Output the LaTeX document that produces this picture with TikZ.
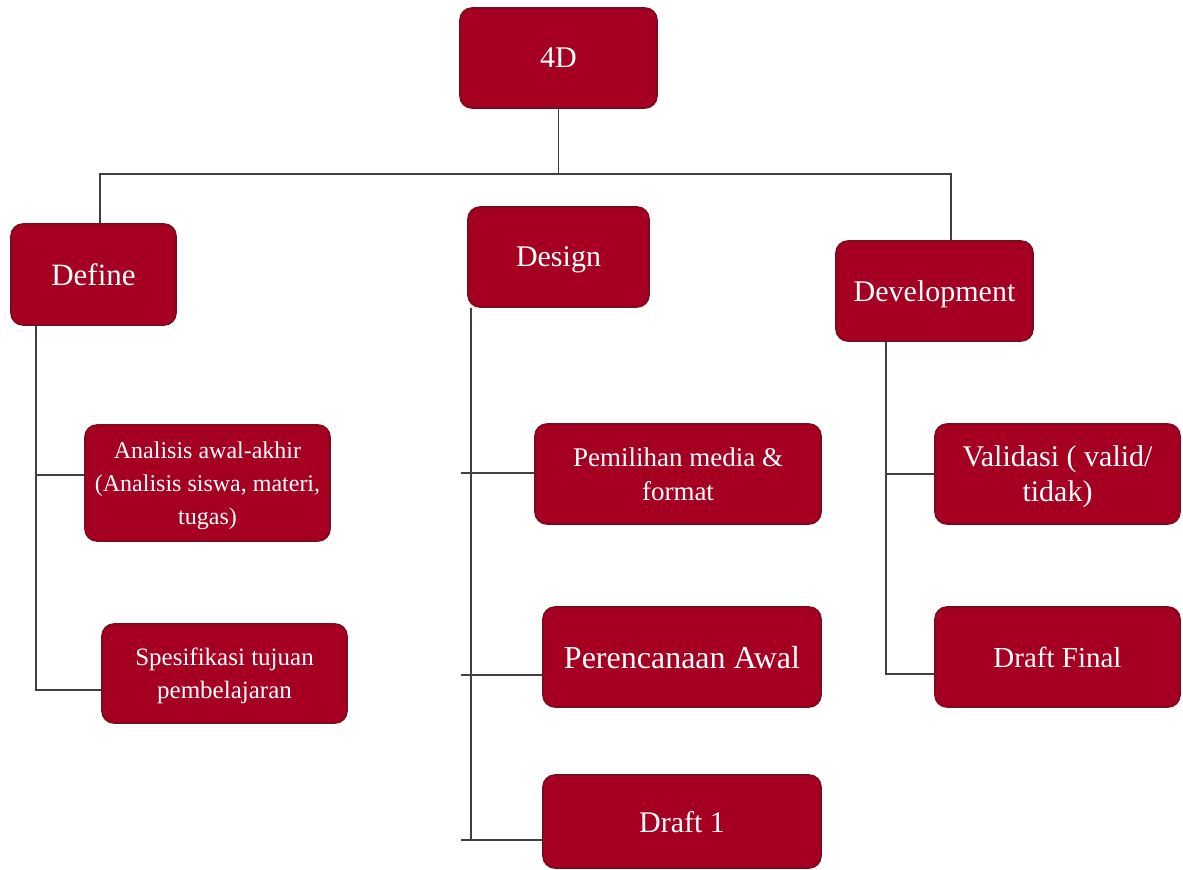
\documentclass[tikz,border=0pt]{standalone}
\usepackage{fontspec}
\setmainfont{Liberation Serif}
\definecolor{boxred}{HTML}{A50022}
\definecolor{boxedge}{HTML}{7D0A1E}
\definecolor{linegray}{HTML}{404040}
\begin{document}
\begin{tikzpicture}[x=0.5pt,y=-0.5pt,
  box/.style={draw=boxedge, line width=0.8pt, fill=boxred, rounded corners=6pt,
    text=white, align=center, inner sep=0pt, text depth=0pt},
  sz/.style 2 args={minimum width=#1*0.5pt, minimum height=#2*0.5pt},
  link/.style={draw=linegray, line width=0.7pt}]
\useasboundingbox (0,0) rectangle (1183,870);
% nodes
\node[box, sz={197}{100}, font=\fontsize{15}{18}\selectfont] (top) at (558.5,58) {4D};
\node[box, sz={165}{101}, font=\fontsize{15.5}{18}\selectfont] (def) at (93.5,274.5) {Define};
\node[box, sz={181}{100}, font=\fontsize{15}{18}\selectfont] (des) at (558.5,257) {Design};
\node[box, sz={197}{100}, font=\fontsize{15}{18}\selectfont] (dev) at (934.5,291) {Development};
\node[box, sz={245}{116}, font=\fontsize{12}{16.5}\selectfont] (ana) at (207.5,483)
  {Analisis awal-akhir\\(Analisis siswa, materi,\\tugas)};
\node[box, sz={245}{99}, font=\fontsize{12.5}{16.5}\selectfont] (spe) at (224.5,673.5)
  {Spesifikasi tujuan\\pembelajaran};
\node[box, sz={286}{100}, font=\fontsize{13.5}{17}\selectfont] (pem) at (678,474)
  {Pemilihan media \&\\format};
\node[box, sz={278}{100}, font=\fontsize{16}{19}\selectfont] (per) at (682,657) {Perencanaan Awal};
\node[box, sz={278}{93}, font=\fontsize{15}{18}\selectfont] (d1) at (682,821.5) {Draft 1};
\node[box, sz={245}{100}, font=\fontsize{15}{17.5}\selectfont] (val) at (1057.5,474)
  {Validasi ( valid/\\tidak)};
\node[box, sz={245}{100}, font=\fontsize{14.5}{17}\selectfont] (dfin) at (1057.5,657) {Draft Final};
% bus
\coordinate (bm) at (558.5,174);
\coordinate (bl) at (100,174);
\coordinate (br) at (951,174);
\draw[link] (top.south) -- (bm);
\draw[link] (bl |- def.north) -- (bl) -- (br) -- (br |- dev.north);
% define branch
\coordinate (a1) at (36,475);
\coordinate (a2) at (36,690);
\draw[link] (a1 |- def.south) -- (a2) -- (a2 -| spe.west);
\draw[link] (a1) -- (a1 -| ana.west);
% design branch
\coordinate (bz) at (471,0);
\coordinate (b1) at (461,473);
\coordinate (b2) at (461,675);
\coordinate (b3) at (461,840);
\draw[link] (bz |- des.south) -- (bz |- b3);
\draw[link] (b1) -- (b1 -| pem.west);
\draw[link] (b2) -- (b2 -| per.west);
\draw[link] (b3) -- (b3 -| d1.west);
% development branch
\coordinate (c1) at (886,474);
\coordinate (c2) at (886,674);
\draw[link] (c1 |- dev.south) -- (c2) -- (c2 -| dfin.west);
\draw[link] (c1) -- (c1 -| val.west);
\end{tikzpicture}
\end{document}
